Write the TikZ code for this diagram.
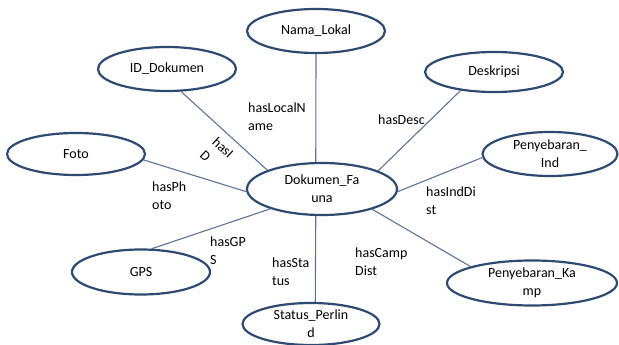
\documentclass[tikz,border=0pt]{standalone}
\usepackage{fontspec}
\setmainfont{Carlito}
\usetikzlibrary{shapes.geometric}
\definecolor{navy}{HTML}{2F4A70}
\definecolor{linegray}{HTML}{5B7396}
\tikzset{
    concept/.style={shape=ellipse,draw=navy,line width=2.2pt,fill=white,inner sep=0pt,align=center,minimum width=138pt,minimum height=44pt},
    rel/.style={anchor=north west,inner sep=0pt,align=left},
    link/.style={draw=linegray,line width=1.1pt}
}
\begin{document}
\begin{tikzpicture}[x=1pt,y=-1pt,font=\fontsize{14}{18}\selectfont]
    \useasboundingbox (0,0) rectangle (619,345);

    \node[concept,minimum width=150pt,minimum height=52pt] (1) at (322,189) {Dokumen\_Fa\\una};
    \node[concept] (2) at (316,31) {Nama\_Lokal};
    \node[concept] (3) at (167,69) {ID\_Dokumen};
    \node[concept,minimum height=40pt] (4) at (494,72) {Deskripsi};
    \node[concept,minimum height=42pt] (5) at (76,154) {Foto};
    \node[concept,minimum width=135pt] (6) at (550,154) {Penyebaran\_\\Ind};
    \node[concept,minimum height=45pt] (7) at (141,272) {GPS};
    \node[concept,minimum width=170pt,minimum height=45pt] (8) at (532,283) {Penyebaran\_Ka\\mp};
    \node[concept,minimum width=137pt,minimum height=42pt] (9) at (311,324) {Status\_Perlin\\d};

    \path[link] (1.103) edge (2.south);
    \path[link] (1.161) edge (3.302);
    \path[link] (1.18) edge (4.209);
    \path[link] (1.182) edge (5.355);
    \path[link] (1.358) edge (6.183);
    \path[link] (1.201) edge (7.65);
    \path[link] (1.338) edge (8.165);
    \path[link] (1.257) edge (9.79);

    \node[rel] (l2) at (248,103) {hasLocalN\\ame};
    \node[inner sep=0pt,align=left,rotate=-43] (l3) at (217,154) {hasI\\D};
    \node[rel] (l4) at (378,115) {hasDesc};
    \node[rel] (l5) at (152,182) {hasPh\\oto};
    \node[rel] (l6) at (426,187) {hasIndDi\\st};
    \node[rel] (l7) at (210,237) {hasGP\\S};
    \node[rel] (l8) at (355,248) {hasCamp\\Dist};
    \node[rel] (l9) at (272,258) {hasSta\\tus};
\end{tikzpicture}
\end{document}
